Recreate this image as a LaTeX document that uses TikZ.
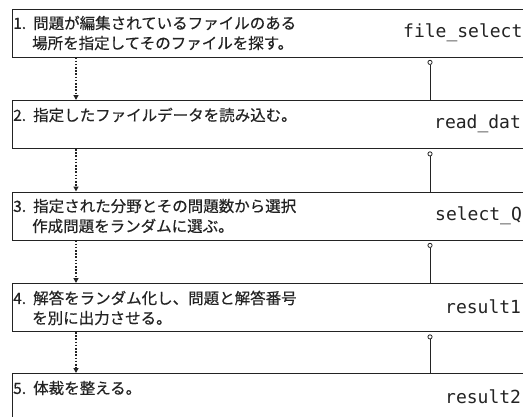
\documentclass[tikz,border=0pt]{standalone}
\usepackage{fontspec}
\newfontfamily\jpfont[FakeBold=0.4]{Noto Sans CJK JP}
\newfontfamily\codefont{DejaVu Sans Mono}
\usetikzlibrary{arrows.meta}
\definecolor{ink}{RGB}{35,35,35}
\newcommand{\stepnum}[1]{\makebox[20pt][l]{#1}}
\tikzset{
  x=1pt, y=-1pt,
  procbox/.style={draw=ink, line width=0.9pt, anchor=north west, minimum width=540pt, minimum height=48pt, inner sep=0pt},
  jptext/.style={anchor=west, inner sep=0pt, font=\jpfont\fontsize{15.5pt}{17pt}\selectfont, text=ink},
  codetext/.style={anchor=west, inner sep=0pt, font=\codefont\fontsize{18pt}{20pt}\selectfont, text=ink},
  flowarrow/.style={ink, line width=1.3pt, dash pattern=on 1.6pt off 1.6pt, -{Triangle[length=5pt,width=5pt]}},
  datalink/.style={ink, line width=0.9pt, -{Circle[open,length=5pt,width=5pt,line width=0.8pt]}, shorten >=2.5pt},
}
\begin{document}
\begin{tikzpicture}
\useasboundingbox (0,0) rectangle (523,416);
\clip (0,0) rectangle (523,416);
\fill[white] (0,0) rectangle (523,416);
\coordinate (xl) at (76,0);
\coordinate (xr) at (430,0);

\node[procbox] (b1) at (12,8.5) {};
\node[procbox] (b2) at (12,100) {};
\node[procbox] (b3) at (12,191.5) {};
\node[procbox] (b4) at (12,283) {};
\node[procbox] (b5) at (12,373) {};

\node[jptext] (t1a) at (13,23) {\stepnum{1.}問題が編集されているファイルのある};
\node[jptext] (t1b) at (32,43) {場所を指定してそのファイルを探す。};
\node[jptext] (t2a) at (13,115) {\stepnum{2.}指定したファイルデータを読み込む。};
\node[jptext] (t3a) at (13,206) {\stepnum{3.}指定された分野とその問題数から選択};
\node[jptext] (t3b) at (32,226) {作成問題をランダムに選ぶ。};
\node[jptext] (t4a) at (13,298) {\stepnum{4.}解答をランダム化し、問題と解答番号};
\node[jptext] (t4b) at (32,318) {を別に出力させる。};
\node[jptext] (t5a) at (13,388) {\stepnum{5.}体裁を整える。};

\node[codetext] (c1) at (403,33) {file\_select};
\node[codetext] (c2) at (434,124) {read\_dat};
\node[codetext] (c3) at (435,216) {select\_Q};
\node[codetext] (c4) at (445,307) {result1};
\node[codetext] (c5) at (445,397) {result2};

\draw[flowarrow] (b1.south -| xl) -- (b2.north -| xl);
\draw[flowarrow] (b2.south -| xl) -- (b3.north -| xl);
\draw[flowarrow] (b3.south -| xl) -- (b4.north -| xl);
\draw[flowarrow] (b4.south -| xl) -- (b5.north -| xl);

\draw[datalink] (b2.north -| xr) -- (b1.south -| xr);
\draw[datalink] (b3.north -| xr) -- (b2.south -| xr);
\draw[datalink] (b4.north -| xr) -- (b3.south -| xr);
\draw[datalink] (b5.north -| xr) -- (b4.south -| xr);
\end{tikzpicture}
\end{document}
